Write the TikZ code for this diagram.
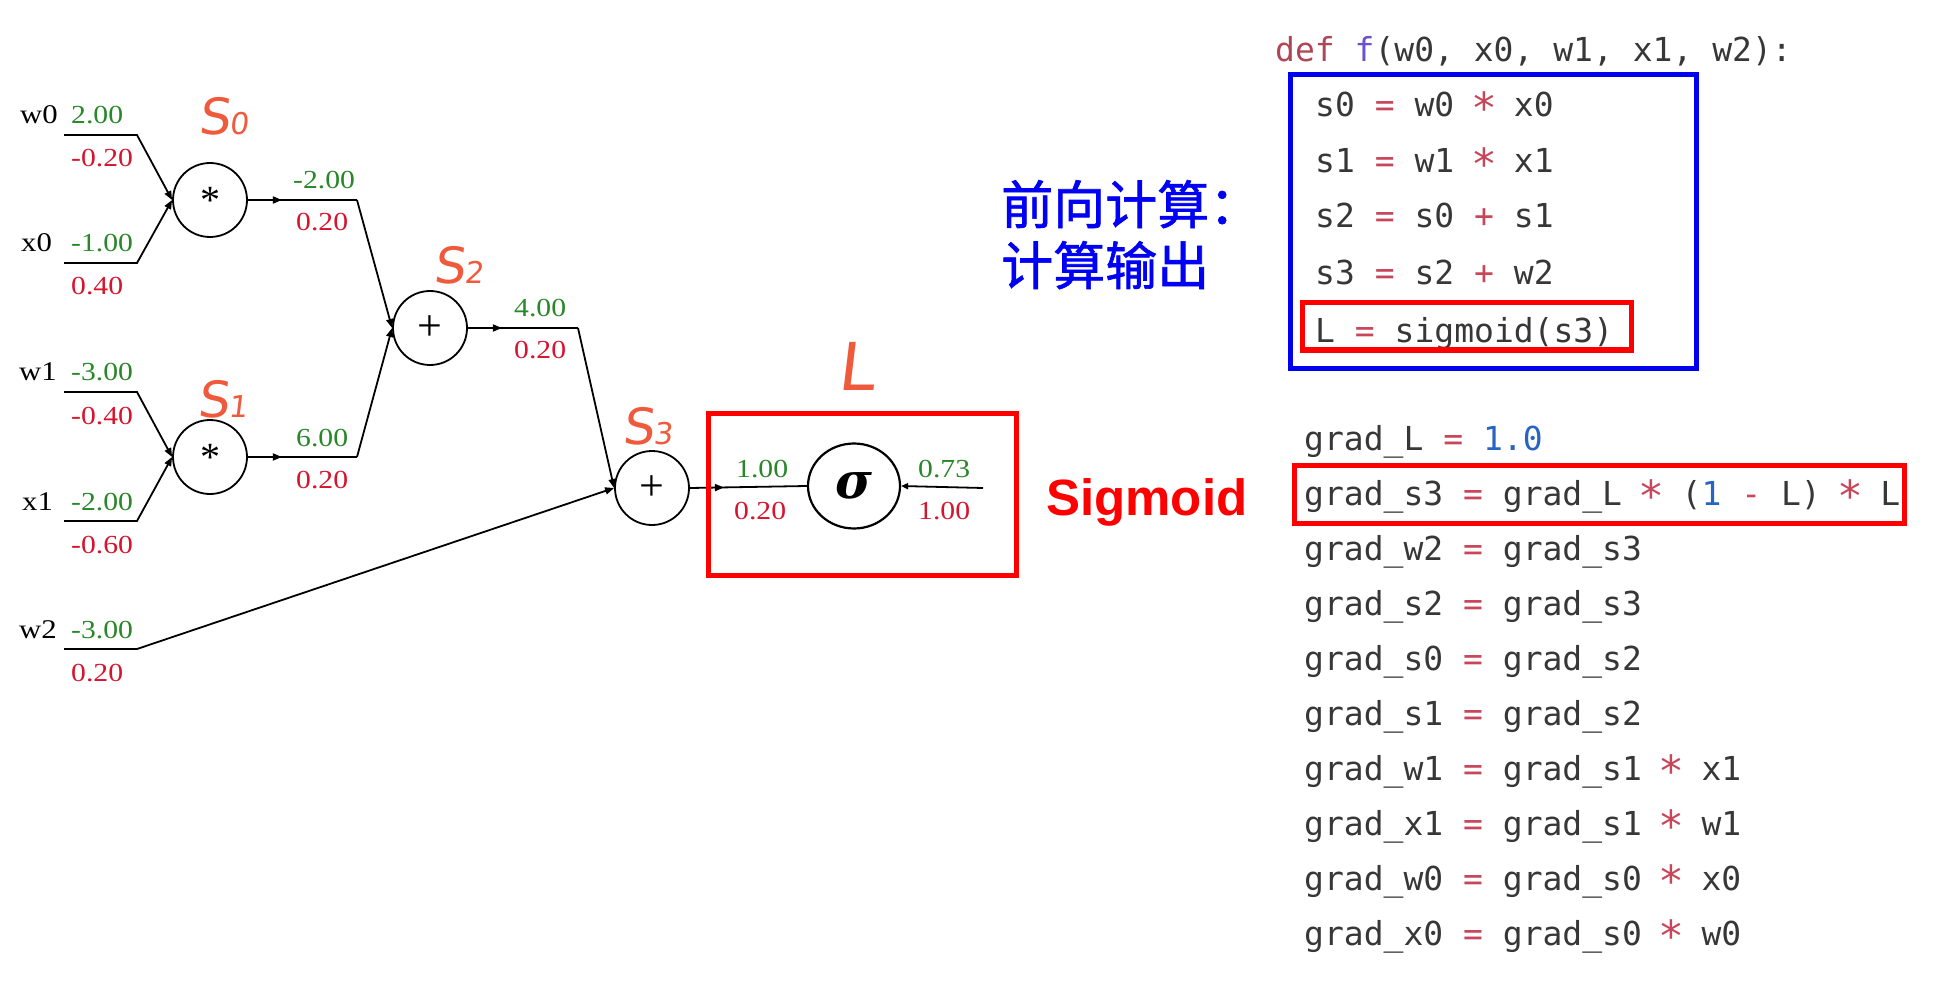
\documentclass[tikz,border=0pt]{standalone}
\usepackage{fontspec}
\setmainfont{Liberation Serif}
\newfontfamily\numfont{Liberation Serif}[FakeStretch=1.14]
\newfontfamily\codefont{DejaVu Sans Mono}
\newfontfamily\cjkfont{Noto Sans CJK SC}[FakeBold=1.3]
\newfontfamily\sigfont{Liberation Sans}
\newfontfamily\sigmafont{DejaVu Serif}
\newfontfamily\handfont{DejaVu Sans}[FakeSlant=0.12]
\usetikzlibrary{arrows.meta,shapes.geometric,decorations.markings}
\definecolor{numgreen}{RGB}{40,135,40}
\definecolor{numred}{RGB}{215,20,45}
\definecolor{handred}{RGB}{240,90,60}
\definecolor{codegray}{RGB}{55,55,55}
\definecolor{opred}{RGB}{200,70,90}
\definecolor{defred}{RGB}{175,70,85}
\definecolor{fpurple}{RGB}{110,80,200}
\definecolor{numblue}{RGB}{40,100,195}
\definecolor{boxblue}{RGB}{0,0,240}
\definecolor{boxred}{RGB}{255,0,0}
\definecolor{cjkblue}{RGB}{0,0,245}
\newcommand\cmul{\textcolor{opred}{\makebox[0.602em]{\raisebox{-0.2em}{\scalebox{1.3}{*}}}}}
\newcommand\ceq{\textcolor{opred}{=}}
\newcommand\cplus{\textcolor{opred}{+}}
\begin{document}
\begin{tikzpicture}[x=1pt,y=-1pt,
  opnode/.style={circle,draw,line width=1.8pt,minimum size=74pt,inner sep=0pt},
  opstar/.style={opnode,font=\fontsize{40}{40}\selectfont},
  opplus/.style={opnode,font=\fontsize{44}{44}\selectfont},
  signode/.style={ellipse,draw,line width=2.2pt,minimum width=92pt,minimum height=85pt,inner sep=0pt},
  sigtext/.style={inner sep=0pt,font=\sigmafont\bfseries\itshape\fontsize{50}{50}\selectfont},
  wire/.style={line width=1.8pt},
  tipend/.style={-{Triangle[length=9pt,width=7pt]}},
  midarrow/.style={postaction={decorate},decoration={markings,
    mark=at position 34pt with {\arrow{Triangle[length=9pt,width=7pt]}}}},
  gval/.style={anchor=base west,inner sep=0pt,text=numgreen,font=\numfont\fontsize{26}{26}\selectfont},
  rval/.style={anchor=base west,inner sep=0pt,text=numred,font=\numfont\fontsize{26}{26}\selectfont},
  vname/.style={anchor=base west,inner sep=0pt,text=black,font=\numfont\fontsize{27}{27}\selectfont},
  codeline/.style={anchor=base west,inner sep=0pt,text=codegray,font=\codefont\fontsize{33}{33}\selectfont},
  hand/.style={anchor=base west,inner sep=0pt,text depth=0pt,text=handred},
  redframe/.style={draw=boxred,line width=5pt},
  blueframe/.style={draw=boxblue,line width=5pt},
  cjktext/.style={anchor=base west,inner sep=0pt,text=cjkblue,font=\cjkfont\fontsize{52}{52}\selectfont}
]
\useasboundingbox (0,0) rectangle (1952,1000);

% ---------- operation nodes ----------
\node[opstar] (m0) at (210,200) {*};
\node[opstar] (m1) at (210,457) {*};
\node[opplus] (p0) at (430,328) {+};
\node[opplus] (p1) at (652,488) {+};
\node[signode] (sg) at (854,486) {};
\node[sigtext] (sgt) at (sg.center) {σ};

% ---------- input wire coordinates ----------
\coordinate (w0a) at (64,135);  \coordinate (w0b) at (137,135);
\coordinate (x0a) at (64,263);  \coordinate (x0b) at (137,263);
\coordinate (w1a) at (64,392);  \coordinate (w1b) at (137,392);
\coordinate (x1a) at (64,521);  \coordinate (x1b) at (137,521);
\coordinate (w2a) at (64,649);  \coordinate (w2b) at (137,649);
\coordinate (m0c) at (357,200);
\coordinate (m1c) at (357,457);
\coordinate (p0c) at (578,328);
\coordinate (out) at (983,488);

% ---------- wires ----------
\draw[wire,tipend] (w0a) -- (w0b) -- (m0.west);
\draw[wire,tipend] (x0a) -- (x0b) -- (m0.west);
\draw[wire,tipend] (w1a) -- (w1b) -- (m1.west);
\draw[wire,tipend] (x1a) -- (x1b) -- (m1.west);
\draw[wire,midarrow] (m0.east) -- (m0c);
\draw[wire,tipend] (m0c) -- (p0.west);
\draw[wire,midarrow] (m1.east) -- (m1c);
\draw[wire,tipend] (m1c) -- (p0.west);
\draw[wire,midarrow] (p0.east) -- (p0c);
\draw[wire,tipend] (p0c) -- (p1.west);
\draw[wire,tipend] (w2a) -- (w2b) -- (p1.west);
\draw[wire,midarrow] (p1.east) -- (sg.west);
\draw[wire,{Triangle[length=7pt,width=6pt]}-] (sg.east) -- (out);

% ---------- names and values ----------
\node[vname] (nw0) at (20,124) {w0};
\node[vname] (nx0) at (21,252) {x0};
\node[vname] (nw1) at (19,381) {w1};
\node[vname] (nx1) at (22,510) {x1};
\node[vname] (nw2) at (19,638) {w2};

\node[gval] (vw0) at (71,124) {2.00};
\node[rval] (gw0) at (71,167) {-0.20};
\node[gval] (vx0) at (71,252) {-1.00};
\node[rval] (gx0) at (71,295) {0.40};
\node[gval] (vw1) at (71,381) {-3.00};
\node[rval] (gw1) at (71,424) {-0.40};
\node[gval] (vx1) at (71,510) {-2.00};
\node[rval] (gx1) at (71,553) {-0.60};
\node[gval] (vw2) at (71,638) {-3.00};
\node[rval] (gw2) at (71,681) {0.20};

\node[gval] (vs0) at (293,189) {-2.00};
\node[rval] (gs0) at (296,231) {0.20};
\node[gval] (vs1) at (296,446) {6.00};
\node[rval] (gs1) at (296,488) {0.20};
\node[gval] (vs2) at (514,317) {4.00};
\node[rval] (gs2) at (514,359) {0.20};
\node[gval] (vs3) at (736,477) {1.00};
\node[rval] (gs3) at (734,519) {0.20};
\node[gval] (vL) at (918,477) {0.73};
\node[rval] (gL) at (918,519) {1.00};

% ---------- handwritten annotations ----------
\node[hand] (hs0) at (198,135) {{\handfont\fontsize{50}{50}\selectfont S}{\handfont\fontsize{30}{30}\selectfont 0}};
\node[hand] (hs2) at (433,284) {{\handfont\fontsize{50}{50}\selectfont S}{\handfont\fontsize{30}{30}\selectfont 2}};
\node[hand] (hs1) at (197,417) {{\handfont\fontsize{50}{50}\selectfont S}{\handfont\fontsize{30}{30}\selectfont 1}};
\node[hand] (hs3) at (622,444) {{\handfont\fontsize{50}{50}\selectfont S}{\handfont\fontsize{30}{30}\selectfont 3}};
\node[hand] (hL) at (837,390) {{\handfont\fontsize{66}{66}\selectfont L}};

% ---------- sigmoid gate frame ----------
\draw[redframe] (708,413) rectangle (1016,575);

% ---------- forward code ----------
\node[codeline] (cdef) at (1275,62) {{\color{defred}def} {\color{fpurple}f}(w0, x0, w1, x1, w2):};
\draw[blueframe] (1290,75) rectangle (1696,368);
\node[codeline] (c0) at (1315,117) {s0 \ceq{} w0 \cmul{} x0};
\node[codeline] (c1) at (1315,173) {s1 \ceq{} w1 \cmul{} x1};
\node[codeline] (c2) at (1315,228) {s2 \ceq{} s0 \cplus{} s1};
\node[codeline] (c3) at (1315,285) {s3 \ceq{} s2 \cplus{} w2};
\node[codeline] (c4) at (1315,342) {L \ceq{} sigmoid(s3)};
\draw[redframe] (1302,303) rectangle (1631,350);

% ---------- labels ----------
\node[cjktext] (fw1) at (1001,224) {前向计算：};
\node[cjktext] (fw2) at (1001,285) {计算输出};
\node[anchor=base west,inner sep=0pt,text=boxred,font=\sigfont\bfseries\fontsize{51}{51}\selectfont] (sigl) at (1046,515) {Sigmoid};

% ---------- backward code ----------
\node[codeline] (g0) at (1304,450) {grad\_L \ceq{} {\color{numblue}1.0}};
\node[codeline] (g1) at (1304,505) {grad\_s3 \ceq{} grad\_L \cmul{} ({\color{numblue}1} {\color{opred}-} L) \cmul{} L};
\node[codeline] (g2) at (1304,560) {grad\_w2 \ceq{} grad\_s3};
\node[codeline] (g3) at (1304,615) {grad\_s2 \ceq{} grad\_s3};
\node[codeline] (g4) at (1304,670) {grad\_s0 \ceq{} grad\_s2};
\node[codeline] (g5) at (1304,725) {grad\_s1 \ceq{} grad\_s2};
\node[codeline] (g6) at (1304,780) {grad\_w1 \ceq{} grad\_s1 \cmul{} x1};
\node[codeline] (g7) at (1304,835) {grad\_x1 \ceq{} grad\_s1 \cmul{} w1};
\node[codeline] (g8) at (1304,890) {grad\_w0 \ceq{} grad\_s0 \cmul{} x0};
\node[codeline] (g9) at (1304,945) {grad\_x0 \ceq{} grad\_s0 \cmul{} w0};
\draw[redframe] (1294,465) rectangle (1904,523);
\end{tikzpicture}
\end{document}
